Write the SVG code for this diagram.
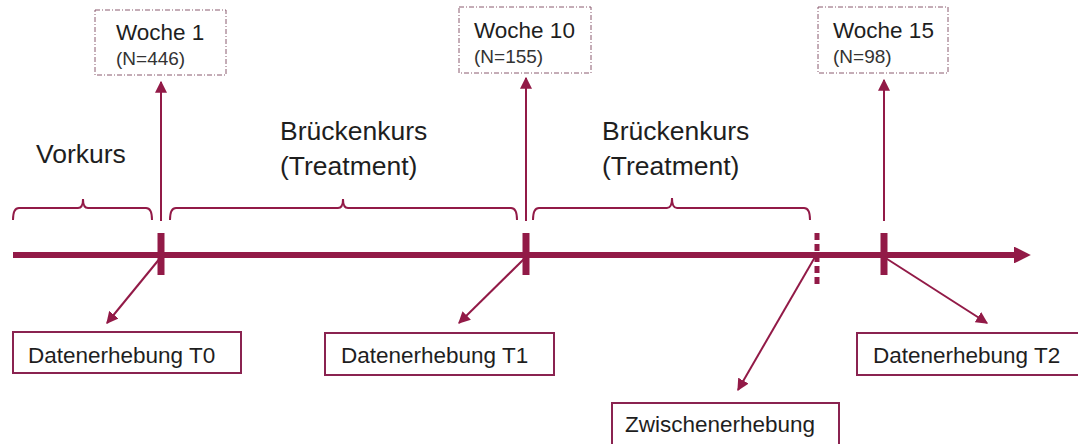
<svg xmlns="http://www.w3.org/2000/svg" width="1078" height="444" viewBox="0 0 1078 444">
<style>
.t{font-family:"Liberation Sans",Arial,sans-serif;fill:#1e1e1e}
.big{font-size:26.5px}
.mid{font-size:22.5px}
.sm{font-size:19px;fill:#333}
.box{fill:#fff;stroke:#8a2350;stroke-width:2}
.dbox{fill:#fff;stroke:#8a5a6e;stroke-width:1;stroke-dasharray:5 2 1 2}
.ln{stroke:#921a47;fill:none}
</style>
<defs>
<marker id="ahs" viewBox="0 0 10 10" refX="9" refY="5" markerWidth="6" markerHeight="6" orient="auto" markerUnits="strokeWidth">
<path d="M0,0 L10,5 L0,10 z" fill="#921a47"/>
</marker>
<marker id="ahb" viewBox="0 0 10 10" refX="0" refY="5" markerWidth="2.8" markerHeight="2.8" orient="auto" markerUnits="strokeWidth">
<path d="M0,0 L10,5 L0,10 z" fill="#921a47"/>
</marker>
</defs>
<rect width="1078" height="444" fill="#fff"/>

<g id="labels">
<text class="t big" x="36" y="163">Vorkurs</text>
<text class="t big" x="280" y="140">Brückenkurs</text>
<text class="t big" x="280" y="175">(Treatment)</text>
<text class="t big" x="602" y="140">Brückenkurs</text>
<text class="t big" x="602" y="175">(Treatment)</text>
</g>

<g id="week1">
<rect class="dbox" x="95" y="10" width="131" height="65"/>
<text class="t mid" x="116" y="40">Woche 1</text>
<text class="t sm" x="116" y="65">(N=446)</text>
</g>
<g id="week10">
<rect class="dbox" x="459" y="7" width="132" height="66"/>
<text class="t mid" x="474" y="38">Woche 10</text>
<text class="t sm" x="474" y="63">(N=155)</text>
</g>
<g id="week15">
<rect class="dbox" x="818" y="7" width="130" height="66"/>
<text class="t mid" x="833" y="38">Woche 15</text>
<text class="t sm" x="833" y="63">(N=98)</text>
</g>

<g id="t0">
<rect class="box" x="13" y="332" width="228" height="41"/>
<text class="t mid" x="28" y="363">Datenerhebung T0</text>
</g>
<g id="t1">
<rect class="box" x="325" y="333" width="229" height="42"/>
<text class="t mid" x="341" y="363">Datenerhebung T1</text>
</g>
<g id="t2">
<rect class="box" x="857" y="333" width="230" height="42"/>
<text class="t mid" x="873" y="363">Datenerhebung T2</text>
</g>
<g id="zwischen">
<rect class="box" x="612" y="403" width="227" height="50"/>
<text class="t mid" x="625" y="432">Zwischenerhebung</text>
</g>

<g id="connectors">
<line class="ln" x1="13" y1="255" x2="1014" y2="255" stroke-width="6" marker-end="url(#ahb)"/>
<line class="ln" x1="161" y1="233" x2="161" y2="275" stroke-width="7"/>
<line class="ln" x1="526" y1="233" x2="526" y2="275" stroke-width="7"/>
<line class="ln" x1="884" y1="233" x2="884" y2="275" stroke-width="7"/>
<line class="ln" x1="817" y1="233" x2="817" y2="284" stroke-width="5" stroke-dasharray="7 4"/>
<path class="ln" stroke-width="2" d="M13,220 Q13,208 19,208 H78 Q83,208 83,199 Q83,208 88,208 H146 Q152,208 152,220"/>
<path class="ln" stroke-width="2" d="M170,220 Q170,208 176,208 H338 Q343,208 343,199 Q343,208 348,208 H511 Q517,208 517,220"/>
<path class="ln" stroke-width="2" d="M533,220 Q533,208 539,208 H667 Q672,208 672,198 Q672,208 677,208 H804 Q810,208 810,220"/>
<line class="ln" x1="161" y1="221" x2="161" y2="82" stroke-width="2" marker-end="url(#ahs)"/>
<line class="ln" x1="526" y1="221" x2="526" y2="78" stroke-width="2" marker-end="url(#ahs)"/>
<line class="ln" x1="884" y1="221" x2="884" y2="80" stroke-width="2" marker-end="url(#ahs)"/>
<line class="ln" x1="161" y1="257" x2="107" y2="323" stroke-width="2" marker-end="url(#ahs)"/>
<line class="ln" x1="526" y1="257" x2="459" y2="323" stroke-width="2" marker-end="url(#ahs)"/>
<line class="ln" x1="815" y1="257" x2="738" y2="390" stroke-width="2" marker-end="url(#ahs)"/>
<line class="ln" x1="884" y1="257" x2="987" y2="323" stroke-width="2" marker-end="url(#ahs)"/>
</g>
</svg>
